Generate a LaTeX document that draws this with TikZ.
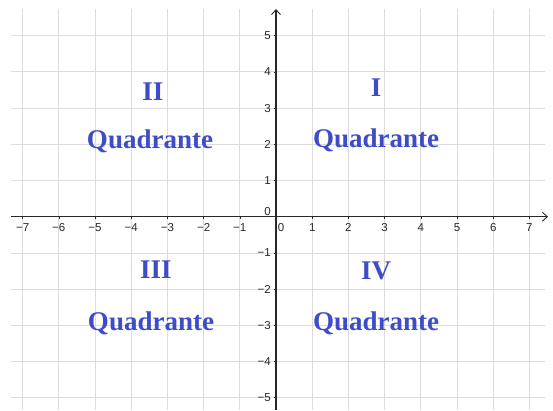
\documentclass[tikz,border=0pt]{standalone}
\usepackage{fontspec}
\setmainfont{Liberation Serif}
\newfontfamily\axisfont{Liberation Sans}
\usetikzlibrary{arrows.meta}
\definecolor{quadblue}{RGB}{62,76,200}
\definecolor{gridgray}{RGB}{220,220,220}
\definecolor{axisgray}{RGB}{40,40,40}
\tikzset{
  gridline/.style={draw=gridgray, line width=0.8pt},
  axisline/.style={draw=axisgray, line width=1.1pt, -{Straight Barb[length=5pt,width=9pt,line width=0.9pt]}},
  ticklbl/.style={font=\axisfont\fontsize{11.5}{11.5}\selectfont, text=axisgray, inner sep=0pt},
  quadlbl/.style={font=\fontsize{27}{27}\selectfont\bfseries, text=quadblue, inner sep=0pt},
}
\begin{document}
\begin{tikzpicture}[x=1pt,y=1pt]
\useasboundingbox (0,0) rectangle (553,410);
% origin at (276,193.3), unit 36.2
\def\ox{276}
\def\oy{193.3}
\def\u{36.2}
% grid
\foreach \k in {-7,...,7} {
  \draw[gridline] ({\ox+\k*\u},0) -- ({\ox+\k*\u},401);
}
\foreach \k in {-5,...,5} {
  \draw[gridline] (11,{\oy+\k*\u}) -- (545,{\oy+\k*\u});
}
% axes
\coordinate (xs) at (11,\oy);
\coordinate (xe) at (548,\oy);
\coordinate (ys) at (\ox,0);
\coordinate (ye) at (\ox,401);
\draw[axisline] (xs) -- (xe);
\draw[axisline] (ys) -- (ye);
% ticks and labels
\foreach \k in {-7,...,-1} {
  \draw[axisgray, line width=0.6pt] ({\ox+\k*\u},\oy) -- ({\ox+\k*\u},{\oy-2.5});
  \node[ticklbl] (xl\k) at ({\ox+\k*\u},{\oy-10.5}) {−\the\numexpr-\k\relax};
}
\foreach \k in {1,...,7} {
  \draw[axisgray, line width=0.6pt] ({\ox+\k*\u},\oy) -- ({\ox+\k*\u},{\oy-2.5});
  \node[ticklbl] (xl\k) at ({\ox+\k*\u},{\oy-10.5}) {\k};
}
\node[ticklbl] (xl0) at ({\ox+5},{\oy-10.5}) {0};
\foreach \k in {1,...,5} {
  \draw[axisgray, line width=0.6pt] (\ox,{\oy+\k*\u}) -- ({\ox-2.5},{\oy+\k*\u});
  \node[ticklbl, anchor=east] (yl\k) at ({\ox-5},{\oy+\k*\u}) {\k};
}
\foreach \k in {-5,...,-1} {
  \draw[axisgray, line width=0.6pt] (\ox,{\oy+\k*\u}) -- ({\ox-2.5},{\oy+\k*\u});
  \node[ticklbl, anchor=east] (yl\k) at ({\ox-5},{\oy+\k*\u}) {−\the\numexpr-\k\relax};
}
\node[ticklbl, anchor=east] (yl0) at ({\ox-5},{\oy+5}) {0};
% quadrant labels
\node[quadlbl] (q2a) at (153,318) {II};
\node[quadlbl] (q2b) at (150,269) {Quadrante};
\node[quadlbl] (q1a) at (376,322) {I};
\node[quadlbl] (q1b) at (376,270) {Quadrante};
\node[quadlbl] (q3a) at (156,140) {III};
\node[quadlbl] (q3b) at (151,87) {Quadrante};
\node[quadlbl] (q4a) at (376,139) {IV};
\node[quadlbl] (q4b) at (376,87) {Quadrante};
\end{tikzpicture}
\end{document}
